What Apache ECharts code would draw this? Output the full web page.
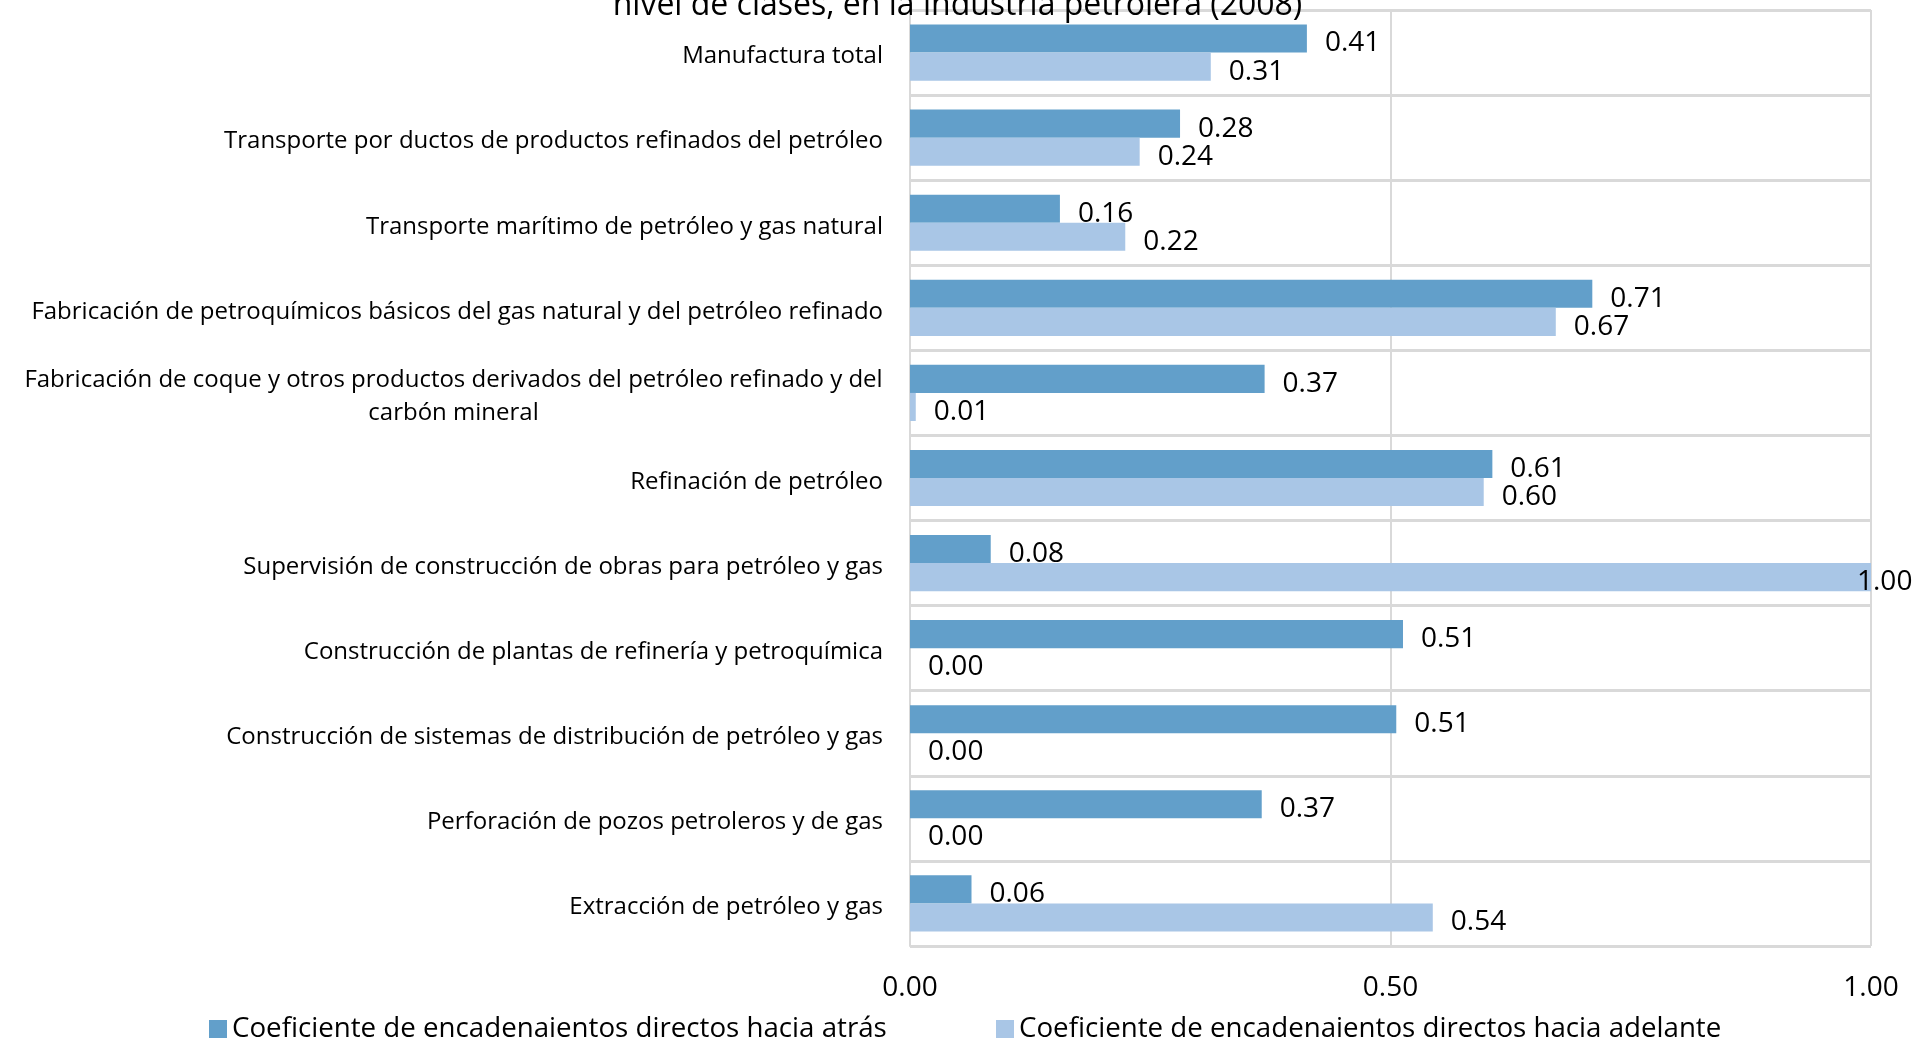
<!DOCTYPE html>
<html>
<head>
<meta charset="utf-8">
<script src="https://cdn.jsdelivr.net/npm/echarts@6/dist/echarts.min.js"></script>
<style>html,body{margin:0;padding:0;background:#fff;}#c{width:1915px;height:1043px;}</style>
</head>
<body>
<div id="c"></div>
<script>
const titleText = 'nivel de clases, en la industria petrolera (2008)';
const categories = [
  'Manufactura total',
  'Transporte por ductos de productos refinados del petróleo',
  'Transporte marítimo de petróleo y gas natural',
  'Fabricación de petroquímicos básicos del gas natural y del petróleo refinado',
  'Fabricación de coque y otros productos derivados del petróleo refinado y del\ncarbón mineral',
  'Refinación de petróleo',
  'Supervisión de construcción de obras para petróleo y gas',
  'Construcción de plantas de refinería y petroquímica',
  'Construcción de sistemas de distribución de petróleo y gas',
  'Perforación de pozos petroleros y de gas',
  'Extracción de petróleo y gas'
];
const seriesNames = [
  'Coeficiente de encadenaientos directos hacia atrás',
  'Coeficiente de encadenaientos directos hacia adelante'
];
const backward = [0.413, 0.281, 0.156, 0.710, 0.369, 0.606, 0.084, 0.513, 0.506, 0.366, 0.064];
const forward  = [0.313, 0.239, 0.224, 0.672, 0.006, 0.597, 1.000, 0.000, 0.000, 0.000, 0.544];
const xTicks = [0, 0.5, 1];

const FONT = "'Open Sans', sans-serif";
const GRAY = '#d9d9d9';
const CAT_SIZE = 24;

const chart = echarts.init(document.getElementById('c'));

// measure first line width for centering the second line of wrapped labels
const cv = document.createElement('canvas').getContext('2d');
cv.font = CAT_SIZE + "px 'Open Sans'";

function catLabel(v) {
  const lines = v.split('\n');
  if (lines.length === 1) return '{n|' + v + '}';
  return lines.map(l => '{c|' + l + '}').join('\n');
}
function richFor() {
  let w = 0;
  categories.forEach(v => {
    const lines = v.split('\n');
    if (lines.length > 1) w = Math.max(w, Math.ceil(cv.measureText(lines[0]).width));
  });
  return {
    c: { width: w, align: 'center', fontSize: CAT_SIZE, fontFamily: FONT, color: '#000', lineHeight: 33 },
    n: { fontSize: CAT_SIZE, fontFamily: FONT, color: '#000', lineHeight: 33 }
  };
}

function mkData(arr) {
  return arr.map(v => {
    if (v >= 0.99) {
      return { value: v, label: { offset: [-32, 5] } };
    }
    return v;
  });
}

const colors = ['#629fca', '#a9c6e6'];
const valueLabel = {
  show: true, position: 'right', distance: 18, offset: [0, 5],
  formatter: p => p.value.toFixed(2), fontSize: 28, color: '#000', fontFamily: FONT
};

chart.setOption({
  animation: false,
  textStyle: { fontFamily: FONT },
  title: {
    text: titleText,
    left: 'center',
    top: -15,
    textStyle: { fontSize: 32, fontWeight: 'normal', color: '#000', fontFamily: FONT }
  },
  grid: { left: 910, right: 44, top: 10, bottom: 97, containLabel: false },
  legend: [
    {
      data: [seriesNames[0]], left: 204, top: 1010, itemWidth: 18, itemHeight: 18, icon: 'rect',
      textStyle: { fontSize: 27.7, color: '#000', fontFamily: FONT }
    },
    {
      data: [seriesNames[1]], left: 991, top: 1010, itemWidth: 18, itemHeight: 18, icon: 'rect',
      textStyle: { fontSize: 27.7, color: '#000', fontFamily: FONT }
    }
  ],
  xAxis: {
    type: 'value', min: 0, max: 1, interval: 0.5,
    axisLine: { show: false }, axisTick: { show: false },
    axisLabel: { formatter: v => v.toFixed(2), fontSize: 28, color: '#000', margin: 28, fontFamily: FONT },
    splitLine: { show: true, lineStyle: { color: GRAY, width: 2 } }
  },
  yAxis: {
    type: 'category', inverse: true, data: categories,
    axisTick: { show: false },
    axisLine: { show: true, lineStyle: { color: GRAY, width: 2 } },
    axisLabel: { color: '#000', margin: 27, fontFamily: FONT, padding: [8, 0, 0, 0], formatter: catLabel, rich: richFor(), interval: 0 },
    splitLine: { show: true, interval: 0, lineStyle: { color: GRAY, width: 3 } }
  },
  series: [
    {
      name: seriesNames[0], type: 'bar', data: mkData(backward), color: colors[0],
      barGap: '0%', barCategoryGap: '34%', label: valueLabel
    },
    {
      name: seriesNames[1], type: 'bar', data: mkData(forward), color: colors[1],
      barGap: '0%', barCategoryGap: '34%', label: valueLabel
    }
  ]
});
</script>
</body>
</html>
